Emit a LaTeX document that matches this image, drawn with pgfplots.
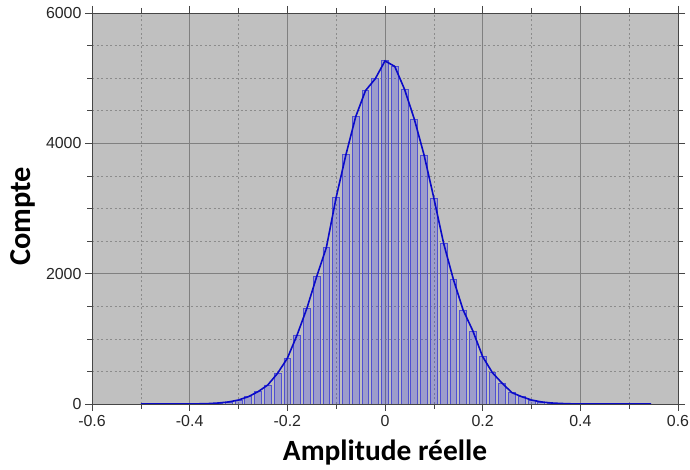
\documentclass[border=0pt]{standalone}
\usepackage{fontspec}
\setmainfont{Liberation Sans}
\newfontfamily\labfont{Carlito}
\usepackage{pgfplots}
\usepackage{pgfplotstable}
\pgfplotsset{compat=1.18}
\definecolor{bg}{RGB}{192,192,192}
\definecolor{majgrid}{RGB}{128,128,128}
\definecolor{mingrid}{RGB}{140,140,140}
\definecolor{axcol}{RGB}{70,70,70}
\definecolor{barline}{RGB}{80,80,210}
\definecolor{curve}{RGB}{10,10,200}

\pgfplotstableread{
x y
-0.38 3
-0.36 7
-0.34 16
-0.32 32
-0.30 61
-0.28 112
-0.26 189
-0.24 292
-0.22 471
-0.20 701
-0.18 1059
-0.16 1468
-0.14 1953
-0.12 2404
-0.10 3171
-0.08 3826
-0.06 4409
-0.04 4808
-0.02 4990
0.00 5265
0.02 5180
0.04 4829
0.06 4373
0.08 3821
0.10 3161
0.12 2466
0.14 1913
0.16 1442
0.18 1120
0.20 726
0.22 480
0.24 317
0.26 174
0.28 112
0.30 61
0.32 32
0.34 16
0.36 8
0.38 3
}\bars

\pgfplotstableread{
x y
-0.50 0
-0.40 0
-0.38 3
-0.36 7
-0.34 16
-0.32 32
-0.30 61
-0.28 112
-0.26 189
-0.24 292
-0.22 471
-0.20 701
-0.18 1059
-0.16 1468
-0.14 1953
-0.12 2404
-0.10 3171
-0.08 3826
-0.06 4409
-0.04 4808
-0.02 4990
0.00 5265
0.02 5180
0.04 4829
0.06 4373
0.08 3821
0.10 3161
0.12 2466
0.14 1913
0.16 1442
0.18 1120
0.20 726
0.22 480
0.24 317
0.26 174
0.28 112
0.30 61
0.32 32
0.34 16
0.36 8
0.38 3
0.40 1
0.42 0
0.545 0
}\curvedata

\begin{document}
\begin{tikzpicture}
\begin{axis}[
  width=586bp, height=391bp, scale only axis,
  xmin=-0.6, xmax=0.6, ymin=0, ymax=6000,
  axis background/.style={fill=bg},
  axis line style={axcol, line width=0.8bp},
  xtick={-0.6,-0.4,-0.2,0,0.2,0.4,0.6},
  xticklabels={-0.6,-0.4,-0.2,0,0.2,0.4,0.6},
  minor xtick={-0.5,-0.3,-0.1,0.1,0.3,0.5},
  ytick={0,2000,4000,6000},
  yticklabels={0,2000,4000,6000},
  minor ytick={500,1000,1500,2500,3000,3500,4500,5000,5500},
  grid=both,
  major grid style={majgrid, line width=0.6bp},
  minor grid style={mingrid, line width=0.6bp, dash pattern=on 2bp off 2.5bp},
  tick align=outside, tick pos=both,
  major tick length=7bp, minor tick length=5bp,
  tick style={axcol, line width=0.6bp},
  ticklabel style={font=\fontsize{16}{19}\selectfont, text=black!85},
  xticklabel style={yshift=-1bp},
  xlabel={\labfont\bfseries Amplitude réelle},
  ylabel={\labfont\bfseries Compte},
  xlabel style={font=\fontsize{29.5}{34}\selectfont, at={(axis description cs:0.5,-0.125)}, anchor=center},
  ylabel style={font=\fontsize{30.5}{35}\selectfont, at={(axis description cs:-0.118,0.48)}, anchor=center},
]
\addplot[ybar, bar width=0.014, draw=barline, line width=0.8bp, fill=blue, fill opacity=0.18] table[x=x,y=y] {\bars};
\addplot[curve, line width=1.6bp, mark=none] table[x=x,y=y] {\curvedata};
\end{axis}
\pgfresetboundingbox
\path (current axis.south west)+(-92bp,-66bp) rectangle ([xshift=12bp,yshift=13bp]current axis.north east);
\end{tikzpicture}
\end{document}
